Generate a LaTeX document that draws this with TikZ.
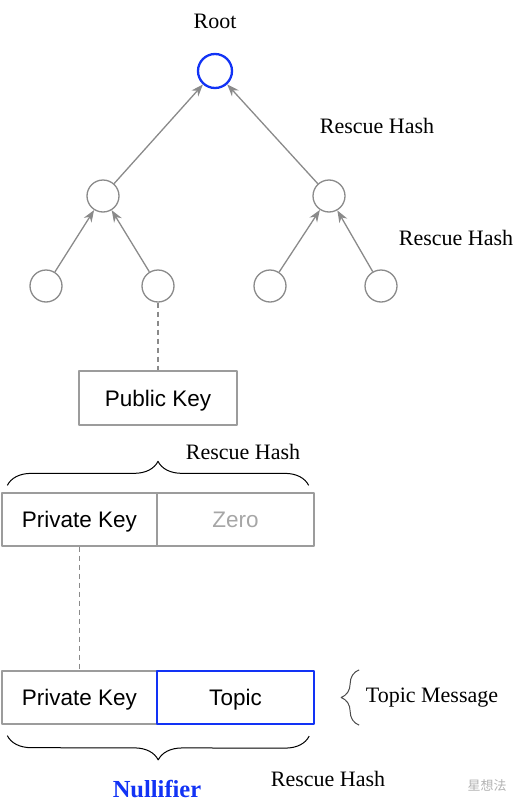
\documentclass[tikz,border=0pt]{standalone}
\usepackage{fontspec}
\setmainfont{Liberation Serif}
\setsansfont{Liberation Sans}
\newfontfamily\cjkfont{Noto Sans CJK SC}
\usetikzlibrary{arrows.meta,decorations.pathreplacing}
\definecolor{edgegray}{HTML}{8A8A8A}
\definecolor{rootblue}{HTML}{1233F5}
\tikzset{
  vtx/.style={circle,draw=edgegray,line width=1.3pt,minimum size=32pt,inner sep=0pt},
  cell/.style={rectangle,draw=edgegray!85,line width=1.3pt,minimum height=53pt,inner sep=0pt,
    text height=16pt,text depth=0pt,font=\sffamily\fontsize{22.5}{26}\selectfont},
  lbl/.style={font=\fontsize{22}{26}\selectfont},
  hashedge/.style={-{Stealth[length=12pt,width=9pt]},draw=edgegray,line width=1.3pt},
  linkedge/.style={draw=edgegray,line width=1.3pt,dash pattern=on 5pt off 4pt},
  grp/.style={decorate,decoration={brace,amplitude=24pt},line width=1pt}
}
\begin{document}
\begin{tikzpicture}[x=1pt,y=1pt,line join=round]
	\useasboundingbox (0,0) rectangle (522,-811);
	% merkle tree
	\node[vtx,draw=rootblue,line width=2.3pt,minimum size=34pt] (root) at (215,-71) {};
	\node[vtx] (m1) at (103,-196) {};
	\node[vtx] (m2) at (329,-196) {};
	\node[vtx] (l1) at (46,-286) {};
	\node[vtx] (l2) at (158,-286) {};
	\node[vtx] (l3) at (270,-286) {};
	\node[vtx] (l4) at (381,-286) {};
	\draw[hashedge] (m1)--(root);
	\draw[hashedge] (m2)--(root);
	\draw[hashedge] (l1)--(m1);
	\draw[hashedge] (l2)--(m1);
	\draw[hashedge] (l3)--(m2);
	\draw[hashedge] (l4)--(m2);
	\node[lbl] (rootlbl) at (215,-21) {Root};
	\node[lbl] (hash1) at (377,-126) {Rescue Hash};
	\node[lbl] (hash2) at (456,-238) {Rescue Hash};
	% public key
	\node[cell,draw=edgegray!85,line width=2pt,minimum width=158pt,minimum height=54pt] (pub) at (158,-398) {Public Key};
	\draw[linkedge] (l2.south)--(pub.north);
	% private key + zero
	\node[cell,minimum width=155pt] (priv) at (79.5,-519.5) {Private Key};
	\node[cell,minimum width=157pt,text=gray!70] (zero) at (235.5,-519.5) {Zero};
	\draw[grp] ([xshift=6pt,yshift=7pt]priv.north west)--([xshift=-6pt,yshift=7pt]zero.north east);
	\node[lbl] (hash3) at (243,-452) {Rescue Hash};
	% nullifier
	\node[cell,minimum width=155pt] (priv2) at (79.5,-697.5) {Private Key};
	\node[cell,minimum width=157pt,draw=rootblue,line width=2.3pt] (topic) at (235.5,-697.5) {Topic};
	\draw[linkedge] (priv.south)--(priv2.north);
	\draw[grp,draw=black!70,decoration={amplitude=18pt}] ([xshift=44pt]topic.south east)--([xshift=44pt]topic.north east);
	\node[lbl] (msg) at (432,-698) {Topic Message};
	\draw[grp] ([xshift=-6pt,yshift=-11pt]topic.south east)--([xshift=6pt,yshift=-11pt]priv2.south west);
	\node[lbl,font=\fontsize{24.5}{28}\selectfont\bfseries,text=rootblue] (null) at (157,-789) {Nullifier};
	\node[lbl] (hash4) at (328,-779) {Rescue Hash};
	\node[text=gray!60,font=\cjkfont\fontsize{13}{15}\selectfont] (mark) at (487,-786) {星想法};
\end{tikzpicture}
\end{document}
